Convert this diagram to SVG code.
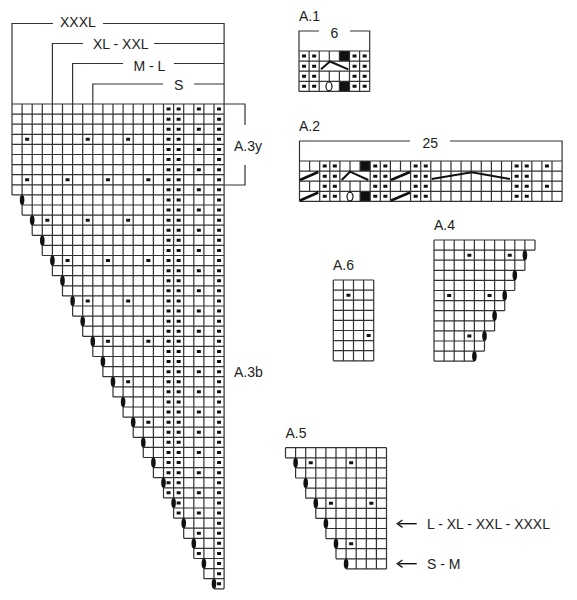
<svg xmlns="http://www.w3.org/2000/svg" width="577" height="600" viewBox="0 0 577 600">
<style>
.g{fill:none;stroke:#333;stroke-width:1.2}
.b{fill:none;stroke:#333;stroke-width:1.2}
.d{fill:none;stroke:#111;stroke-width:3}
.c{stroke-width:4;stroke-dasharray:3 7.1}
.e{stroke-width:4;stroke-dasharray:3 17.2}
.o{fill:#111}
.s{fill:none;stroke:#111;stroke-width:2}
.t{fill:none;stroke:#111;stroke-width:2.6}
.w{fill:#fff;stroke:#111;stroke-width:1.2}
.k{fill:#111}
text{font-family:"Liberation Sans",Arial,sans-serif;font-size:14px;fill:#222}
</style>
<defs>
<marker id="ah" markerWidth="9" markerHeight="9" refX="5" refY="4" orient="auto" markerUnits="userSpaceOnUse" viewBox="0 0 9 9">
<path d="M6.5 0.3L1.2 4L6.5 7.7" fill="none" stroke="#111" stroke-width="1.3" transform="rotate(180 4 4)"/>
</marker>
</defs>
<rect width="577" height="600" fill="#fff"/>

<g id="connectors">
<path class="b" d="M53 23.5H12V104M103 23.5H224.1V104M83 43.5H52.4V104M154 43.5H224.1M123 63.5H72.6V104M174 63.5H224.1M163 84H92.8V104M194 84H224.1"/>
<path class="b" d="M224.1 104H245V125M245 165V185H224.1"/>
<path class="b" d="M319 31H299V51M350 31H369.7V51"/>
<path class="b" d="M410 141H299.5V161M450 141H562.1V161"/>
<path d="M416.7 523.7H399" fill="none" stroke="#111" stroke-width="1.4" marker-end="url(#ah)"/>
<path d="M416.7 563.7H399" fill="none" stroke="#111" stroke-width="1.4" marker-end="url(#ah)"/>
</g>

<g id="labels">
<text x="60" y="27">XXXL</text>
<text x="93" y="48.5">XL - XXL</text>
<text x="133.5" y="70.5">M - L</text>
<text x="174" y="90">S</text>
<text x="234" y="151">A.3y</text>
<text x="234" y="377">A.3b</text>
<text x="299" y="20.5">A.1</text>
<text x="330.5" y="37.5">6</text>
<text x="299" y="130.5">A.2</text>
<text x="422.5" y="147.5">25</text>
<text x="333" y="269.5">A.6</text>
<text x="434" y="229.5">A.4</text>
<text x="285.5" y="437.5">A.5</text>
<text x="427" y="528.5">L - XL - XXL - XXXL</text>
<text x="427" y="568.5">S - M</text>
</g>

<g id="A3">
<path class="g" d="M12 104H224.1M12 114.1H224.1M12 124.2H224.1M12 134.3H224.1M12 144.4H224.1M12 154.5H224.1M12 164.6H224.1M12 174.7H224.1M12 184.8H224.1M12 194.9H224.1M22.1 205H224.1M22.1 215.1H224.1M32.2 225.2H224.1M32.2 235.3H224.1M42.3 245.4H224.1M42.3 255.5H224.1M52.4 265.6H224.1M52.4 275.7H224.1M62.5 285.8H224.1M62.5 295.9H224.1M72.6 306H224.1M72.6 316.1H224.1M82.7 326.2H224.1M82.7 336.3H224.1M92.8 346.4H224.1M92.8 356.5H224.1M102.9 366.6H224.1M102.9 376.7H224.1M113 386.8H224.1M113 396.9H224.1M123.1 407H224.1M123.1 417.1H224.1M133.2 427.2H224.1M133.2 437.3H224.1M143.3 447.4H224.1M143.3 457.5H224.1M153.4 467.6H224.1M153.4 477.7H224.1M163.5 487.8H224.1M163.5 497.9H224.1M173.6 508H224.1M173.6 518.1H224.1M183.7 528.2H224.1M183.7 538.3H224.1M193.8 548.4H224.1M193.8 558.5H224.1M203.9 568.6H224.1M203.9 578.7H224.1M214 588.8H224.1"/>
<path class="g" d="M12 104V194.9M22.1 104V215.1M32.2 104V235.3M42.3 104V255.5M52.4 104V275.7M62.5 104V295.9M72.6 104V316.1M82.7 104V336.3M92.8 104V356.5M102.9 104V376.7M113 104V396.9M123.1 104V417.1M133.2 104V437.3M143.3 104V457.5M153.4 104V477.7M163.5 104V497.9M173.6 104V518.1M183.7 104V538.3M193.8 104V558.5M203.9 104V578.7M214 104V588.8M224.1 104V588.8"/>
<path class="d c" d="M168.55 107.55V494.35M178.65 107.55V514.55M219.05 107.55V585.25"/>
<path class="d e" d="M198.85 107.55V554.95"/>
<path class="d" d="M25.15 139.35h4M85.75 139.35h4M126.15 139.35h4M25.15 179.75h4M65.55 179.75h4M105.95 179.75h4M146.35 179.75h4M45.35 220.15h4M85.75 220.15h4M126.15 220.15h4M65.55 260.55h4M105.95 260.55h4M146.35 260.55h4M85.75 300.95h4M126.15 300.95h4M105.95 341.35h4M146.35 341.35h4M126.15 381.75h4M146.35 422.15h4"/>
<g class="o">
<ellipse cx="22.1" cy="200" rx="2.3" ry="5"/>
<ellipse cx="32.2" cy="220.2" rx="2.3" ry="5"/>
<ellipse cx="42.3" cy="240.4" rx="2.3" ry="5"/>
<ellipse cx="52.4" cy="260.6" rx="2.3" ry="5"/>
<ellipse cx="62.5" cy="280.8" rx="2.3" ry="5"/>
<ellipse cx="72.6" cy="301" rx="2.3" ry="5"/>
<ellipse cx="82.7" cy="321.2" rx="2.3" ry="5"/>
<ellipse cx="92.8" cy="341.4" rx="2.3" ry="5"/>
<ellipse cx="102.9" cy="361.6" rx="2.3" ry="5"/>
<ellipse cx="113" cy="381.8" rx="2.3" ry="5"/>
<ellipse cx="123.1" cy="402" rx="2.3" ry="5"/>
<ellipse cx="133.2" cy="422.2" rx="2.3" ry="5"/>
<ellipse cx="143.3" cy="442.4" rx="2.3" ry="5"/>
<ellipse cx="153.4" cy="462.6" rx="2.3" ry="5"/>
<ellipse cx="163.5" cy="482.8" rx="2.3" ry="5"/>
<ellipse cx="173.6" cy="503" rx="2.3" ry="5"/>
<ellipse cx="183.7" cy="523.2" rx="2.3" ry="5"/>
<ellipse cx="193.8" cy="543.4" rx="2.3" ry="5"/>
<ellipse cx="203.9" cy="563.6" rx="2.3" ry="5"/>
<ellipse cx="214" cy="583.8" rx="2.3" ry="5"/>
</g>
</g>

<g id="A1">
<rect class="k" x="339.4" y="51" width="10.1" height="10.1"/>
<rect class="k" x="339.4" y="81.3" width="10.1" height="10.1"/>
<path class="g" d="M299 51H369.7M299 61.1H369.7M299 71.2H369.7M299 81.3H369.7M299 91.4H369.7M299 51V91.4M309.1 51V91.4M319.2 51V91.4M329.3 51V61.1M329.3 71.2V91.4M339.4 51V61.1M339.4 71.2V91.4M349.5 51V91.4M359.6 51V91.4M369.7 51V91.4"/>
<path class="d c" d="M304.05 54.55V91M314.15 54.55V91M354.55 54.55V91M364.65 54.55V91"/>
<path class="s" d="M321 69.3L330 61.5L348.3 69.3"/>
<ellipse class="w" cx="329" cy="86.4" rx="3" ry="4.4"/>
</g>

<g id="A2">
<rect class="k" x="360.1" y="161" width="10.1" height="10.1"/>
<rect class="k" x="360.1" y="191.3" width="10.1" height="10.1"/>
<path class="g" d="M299.5 161H562.1M299.5 171.1H562.1M299.5 181.2H562.1M299.5 191.3H562.1M299.5 201.4H562.1M299.5 161V201.4M309.6 161V171.1M309.6 181.2V191.3M319.7 161V201.4M329.8 161V201.4M339.9 161V201.4M350 161V171.1M350 181.2V201.4M360.1 161V171.1M360.1 181.2V201.4M370.2 161V201.4M380.3 161V201.4M390.4 161V201.4M400.5 161V171.1M400.5 181.2V191.3M410.6 161V201.4M420.7 161V201.4M430.8 161V201.4M440.9 161V201.4M451 161V201.4M461.1 161V201.4M471.2 161V201.4M481.3 161V201.4M491.4 161V201.4M501.5 161V201.4M511.6 161V201.4M521.7 161V201.4M531.8 161V201.4M541.9 161V201.4M552 161V201.4M562.1 161V201.4"/>
<path class="d c" d="M324.75 164.55V201M334.85 164.55V201M375.25 164.55V201M385.35 164.55V201M415.65 164.55V201M425.75 164.55V201M516.65 164.55V201M526.75 164.55V201"/>
<path class="d e" d="M546.95 164.55V190"/>
<path class="t" d="M300 180L318.3 172M391 180L410 172M300 200.5L318.3 192.5M391 200.5L410 192.5"/>
<path class="s" d="M341.7 180L350 171.7L368.3 180M431.7 179L471.7 172.3L510 179"/>
<ellipse class="w" cx="350" cy="196.6" rx="3" ry="4.4"/>
</g>

<g id="A6">
<path class="g" d="M333.3 280H373.7M333.3 290.1H373.7M333.3 300.2H373.7M333.3 310.3H373.7M333.3 320.4H373.7M333.3 330.5H373.7M333.3 340.6H373.7M333.3 350.7H373.7M333.3 360.8H373.7M333.3 280V360.8M343.4 280V360.8M353.5 280V360.8M363.6 280V360.8M373.7 280V360.8"/>
<path class="d" d="M346.45 295.15h4M366.65 335.55h4"/>
</g>

<g id="A4">
<path class="g" d="M434 240H535M434 250.1H535M434 260.2H524.9M434 270.3H524.9M434 280.4H514.8M434 290.5H514.8M434 300.6H504.7M434 310.7H504.7M434 320.8H494.6M434 330.9H494.6M434 341H484.5M434 351.1H484.5M434 361.2H474.4"/>
<path class="g" d="M434 240V361.2M444.1 240V361.2M454.2 240V361.2M464.3 240V361.2M474.4 240V361.2M484.5 240V351.1M494.6 240V330.9M504.7 240V310.7M514.8 240V290.5M524.9 240V270.3M535 240V250.1"/>
<path class="d" d="M467.35 255.15h4M507.75 255.15h4M447.15 295.55h4M487.55 295.55h4M467.35 335.95h4"/>
<g class="o">
<ellipse cx="524.9" cy="255.15" rx="2.3" ry="5"/>
<ellipse cx="514.8" cy="275.35" rx="2.3" ry="5"/>
<ellipse cx="504.7" cy="295.55" rx="2.3" ry="5"/>
<ellipse cx="494.6" cy="315.75" rx="2.3" ry="5"/>
<ellipse cx="484.5" cy="335.95" rx="2.3" ry="5"/>
<ellipse cx="474.4" cy="356.15" rx="2.3" ry="5"/>
</g>
</g>

<g id="A5">
<path class="g" d="M285.5 447.7H386.5M285.5 457.8H386.5M295.6 467.9H386.5M295.6 478H386.5M305.7 488.1H386.5M305.7 498.2H386.5M315.8 508.3H386.5M315.8 518.4H386.5M325.9 528.5H386.5M325.9 538.6H386.5M336 548.7H386.5M336 558.8H386.5M346.1 568.9H386.5"/>
<path class="g" d="M285.5 447.7V457.8M295.6 447.7V478M305.7 447.7V498.2M315.8 447.7V518.4M325.9 447.7V538.6M336 447.7V558.8M346.1 447.7V568.9M356.2 447.7V568.9M366.3 447.7V568.9M376.4 447.7V568.9M386.5 447.7V568.9"/>
<path class="d" d="M308.75 462.85h4M349.15 462.85h4M328.95 503.25h4M369.35 503.25h4M349.15 543.65h4"/>
<g class="o">
<ellipse cx="295.6" cy="462.85" rx="2.3" ry="5"/>
<ellipse cx="305.7" cy="483.05" rx="2.3" ry="5"/>
<ellipse cx="315.8" cy="503.25" rx="2.3" ry="5"/>
<ellipse cx="325.9" cy="523.45" rx="2.3" ry="5"/>
<ellipse cx="336" cy="543.65" rx="2.3" ry="5"/>
<ellipse cx="346.1" cy="563.85" rx="2.3" ry="5"/>
</g>
</g>
</svg>
